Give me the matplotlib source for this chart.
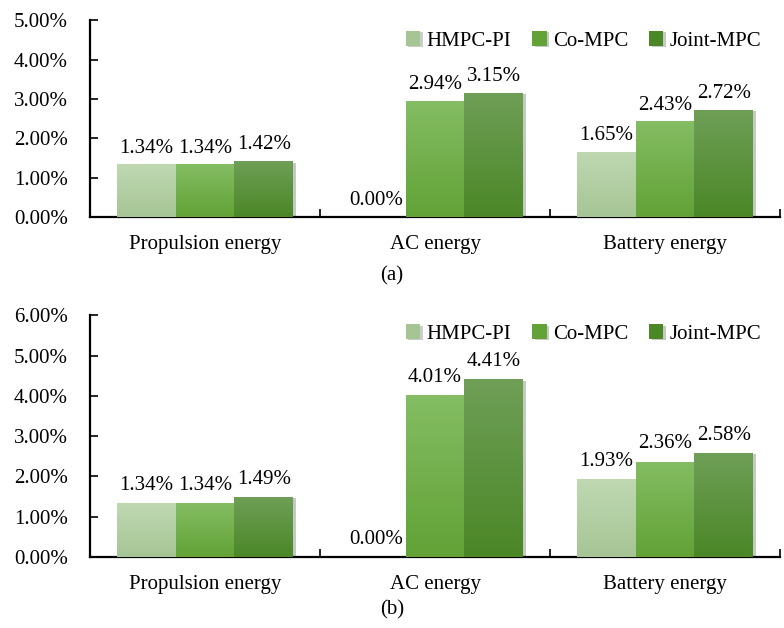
import numpy as np
import matplotlib.pyplot as plt
from matplotlib.colors import LinearSegmentedColormap
from matplotlib import patheffects as pe

plt.rcParams['font.family'] = ['Liberation Serif', 'DejaVu Serif']

categories = ["Propulsion energy", "AC energy", "Battery energy"]
series = ["HMPC-PI", "Co-MPC", "Joint-MPC"]

# percent values
hmpc_a = [1.34, 0.00, 1.65]
co_a = [1.34, 2.94, 2.43]
joint_a = [1.42, 3.15, 2.72]

hmpc_b = [1.34, 0.00, 1.93]
co_b = [1.34, 4.01, 2.36]
joint_b = [1.49, 4.41, 2.58]

# (top colour, bottom colour) of each gradient fill
grads = [("#bfd8b2", "#a6c595"), ("#84bd63", "#62a236"), ("#6f9f57", "#4b8727")]
FS = 15


def gradient_bar(ax, bar, top, bottom):
    cmap = LinearSegmentedColormap.from_list("g", [bottom, top])
    x0, y0 = bar.get_x(), bar.get_y()
    w, h = bar.get_width(), bar.get_height()
    if h <= 0:
        return
    img = ax.imshow(np.linspace(0, 1, 100).reshape(-1, 1), cmap=cmap, origin="lower",
                    extent=[x0, x0 + w, y0, y0 + h], aspect="auto", zorder=3,
                    interpolation="bilinear")
    img.set_clip_path(bar)


def panel(ax, data, ymax):
    x = np.arange(len(categories))
    w = 0.255
    for i, (vals, name) in enumerate(zip(data, series)):
        bars = ax.bar(x + (i - 1) * w, vals, w, color=grads[i][1], label=name, zorder=2,
                      path_effects=[pe.SimplePatchShadow(offset=(2, -1), alpha=0.25), pe.Normal()])
        for b, v in zip(bars, vals):
            gradient_bar(ax, b, *grads[i])
            ax.text(b.get_x() + w / 2, v + ymax * 0.035, f"{v:.2f}%", ha="center", va="bottom",
                    fontsize=FS, zorder=4)
    ax.set_xlim(-0.5, 2.5)
    ax.set_ylim(0, ymax)
    ax.set_yticks(np.arange(0, ymax + 0.5, 1))
    ax.set_yticklabels([f"{t:.2f}%" for t in np.arange(0, ymax + 0.5, 1)], fontsize=FS)
    ax.set_xticks(x)
    ax.set_xticklabels(categories, fontsize=FS)
    ax.set_xticks([0.5, 1.5, 2.5], minor=True)
    ax.tick_params(axis="x", which="major", length=0, pad=13)
    ax.tick_params(axis="x", which="minor", direction="in", length=6, width=1.2)
    ax.tick_params(axis="y", direction="in", length=6, width=1.2, pad=16)
    for s in ["top", "right"]:
        ax.spines[s].set_visible(False)
    for s in ["left", "bottom"]:
        ax.spines[s].set_linewidth(1.6)
    ax.legend(loc="upper right", ncol=3, frameon=False, fontsize=FS, handlelength=0.7,
              handleheight=0.7, handletextpad=0.3, columnspacing=1.0,
              bbox_to_anchor=(1.0, 1.04))


fig = plt.figure(figsize=(7.84, 6.28), dpi=100)
ax1 = fig.add_axes([0.115, 0.654, 0.88, 0.314])
ax2 = fig.add_axes([0.115, 0.113, 0.88, 0.385])

panel(ax1, [hmpc_a, co_a, joint_a], 5)
panel(ax2, [hmpc_b, co_b, joint_b], 6)

fig.text(0.5, 1 - 276 / 628, "(a)", ha="center", va="center", fontsize=FS)
fig.text(0.5, 1 - 610 / 628, "(b)", ha="center", va="center", fontsize=FS)

fig.savefig("out.png", dpi=100)
